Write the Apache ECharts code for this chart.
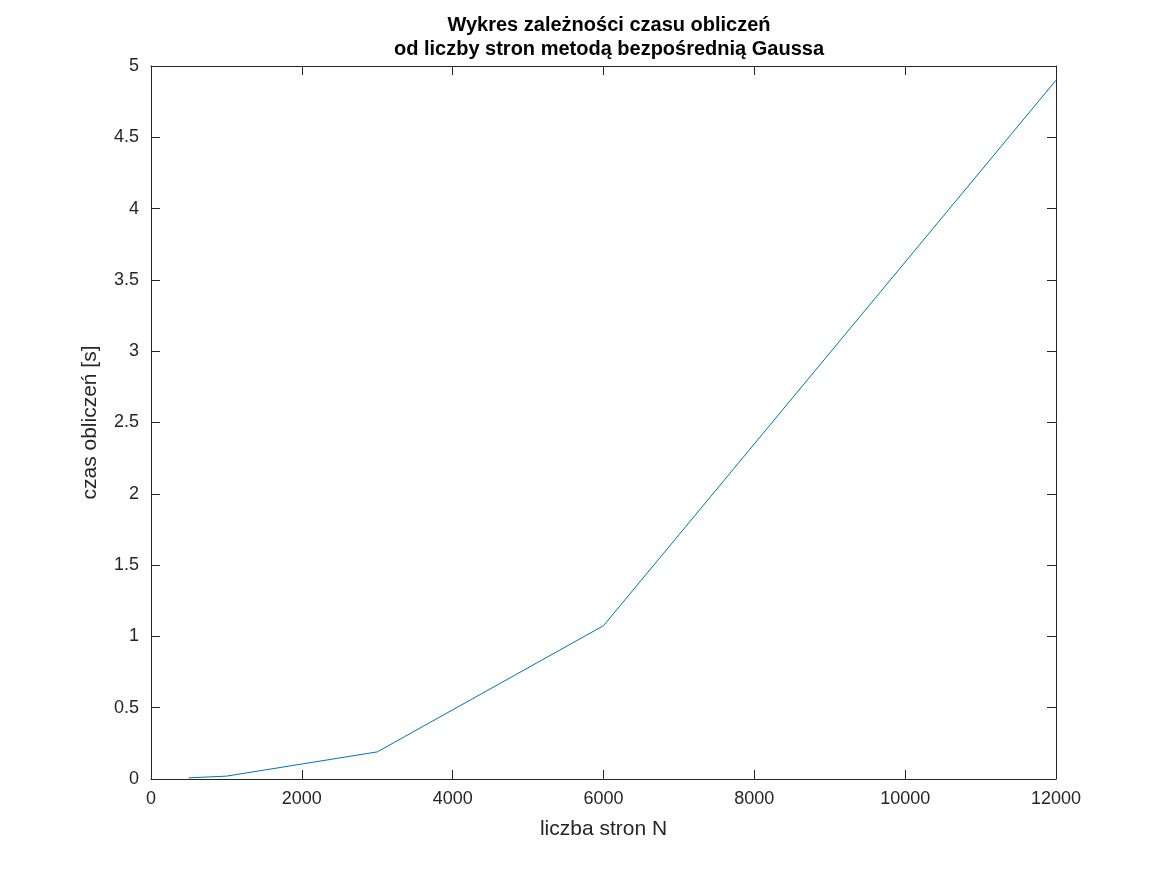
<!DOCTYPE html>
<html>
<head>
<meta charset="utf-8">
<script src="https://cdn.jsdelivr.net/npm/echarts@6/dist/echarts.min.js"></script>
<style>html,body{margin:0;background:#fff}#chart{width:1167px;height:875px}</style>
</head>
<body>
<div id="chart"></div>
<script>
// liczba stron N i czas obliczeń [s]
var pages = [500, 1000, 3000, 6000, 12000];
var times = [0.008, 0.02, 0.19, 1.075, 4.9];
var titleLines = ['Wykres zależności czasu obliczeń', 'od liczby stron metodą bezpośrednią Gaussa'];

var font = 'Liberation Sans, Arial, sans-serif';
var chart = echarts.init(document.getElementById('chart'));
var axisCommon = {
    axisLine: { show: true, onZero: false, lineStyle: { color: '#262626', width: 1 } },
    axisTick: { show: true, inside: true, length: 9, lineStyle: { color: '#262626' } },
    splitLine: { show: false }
};
chart.setOption({
    backgroundColor: '#fff',
    title: {
        text: titleLines.join('\n'),
        left: 604, top: 8, textAlign: 'center',
        textStyle: { fontFamily: font, fontSize: 20, fontWeight: 'bold', color: '#000', lineHeight: 24 }
    },
    grid: { left: 151, right: 111, top: 66, bottom: 96 },
    xAxis: [
        Object.assign({
            type: 'value', min: 0, max: 12000, interval: 2000, position: 'bottom',
            name: 'liczba stron N', nameLocation: 'middle', nameGap: 40,
            nameTextStyle: { fontFamily: font, fontSize: 21, color: '#262626' },
            axisLabel: { fontFamily: font, fontSize: 18, color: '#262626', margin: 11,
                formatter: function (v) { return String(v); } }
        }, axisCommon),
        Object.assign({
            type: 'value', min: 0, max: 12000, interval: 2000, position: 'top',
            axisLabel: { show: false }
        }, axisCommon)
    ],
    yAxis: [
        Object.assign({
            type: 'value', min: 0, max: 5, interval: 0.5, position: 'left',
            name: 'czas obliczeń [s]', nameLocation: 'middle', nameGap: 50,
            nameTextStyle: { fontFamily: font, fontSize: 21, color: '#262626' },
            axisLabel: { fontFamily: font, fontSize: 18, color: '#262626', margin: 12 }
        }, axisCommon),
        Object.assign({
            type: 'value', min: 0, max: 5, interval: 0.5, position: 'right',
            axisLabel: { show: false }
        }, axisCommon)
    ],
    series: [{
        type: 'line',
        data: pages.map(function (p, i) { return [p, times[i]]; }),
        showSymbol: false,
        lineStyle: { color: '#0072BD', width: 1 },
        animation: false
    }]
});
</script>
</body>
</html>
